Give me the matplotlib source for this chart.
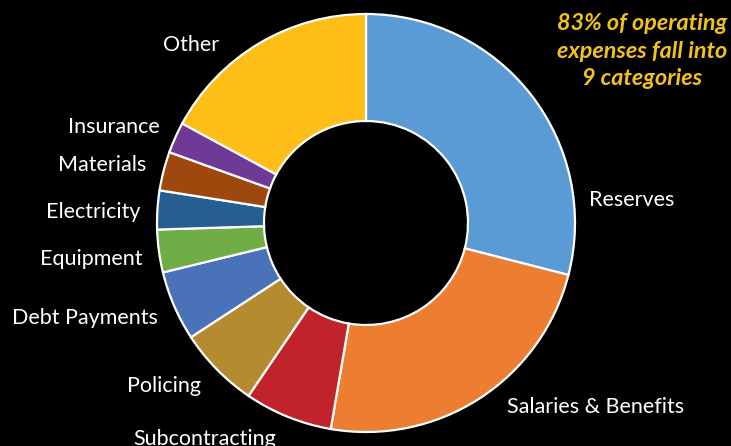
import matplotlib.pyplot as plt

plt.rcParams['font.family'] = ['Lato', 'DejaVu Sans']

# operating expense share (%), clockwise from 12 o'clock
categories = ['Reserves', 'Salaries & Benefits', 'Subcontracting', 'Policing',
              'Debt Payments', 'Equipment', 'Electricity', 'Materials',
              'Insurance', 'Other']
shares = [29.0, 23.7, 6.8, 6.3, 5.4, 3.3, 3.0, 3.0, 2.4, 17.1]
colors = ['#5B9BD5', '#ED7D31', '#C0232A', '#B58B30', '#4A72B8',
          '#70AD47', '#255E91', '#9E480E', '#6F3A96', '#FDBF17']

# label anchor in pixel coords (x, y from top), alignment
label_pos = {
    'Reserves': (589, 200, 'left'),
    'Salaries & Benefits': (507, 407, 'left'),
    'Subcontracting': (205, 439, 'center'),
    'Policing': (164, 386, 'center'),
    'Debt Payments': (158, 318, 'right'),
    'Equipment': (143, 259, 'right'),
    'Electricity': (140, 212, 'right'),
    'Materials': (146, 165, 'right'),
    'Insurance': (160, 127, 'right'),
    'Other': (191, 45, 'center'),
}

W, H = 731, 446
fig = plt.figure(figsize=(W / 100, H / 100), dpi=100, facecolor='black')
ax = fig.add_axes([0, 0, 1, 1])
ax.set_facecolor('black')

ax.pie(shares, colors=colors, startangle=90, counterclock=False,
       center=(366, H - 223), radius=209,
       wedgeprops=dict(width=107, edgecolor='white', linewidth=1.6))

for name in categories:
    x, y, ha = label_pos[name]
    ax.text(x, H - y, name, color='white', fontsize=15.5, ha=ha, va='center')

ax.text(642, H - 51, '83% of operating\nexpenses fall into\n9 categories',
        color='#F2C21B', fontsize=16.8, fontweight='bold', fontstyle='italic',
        ha='center', va='center', linespacing=1.4)

ax.set_xlim(0, W)
ax.set_ylim(0, H)
ax.set_aspect('equal')
ax.axis('off')

fig.savefig('out.png', dpi=100, facecolor='black')
